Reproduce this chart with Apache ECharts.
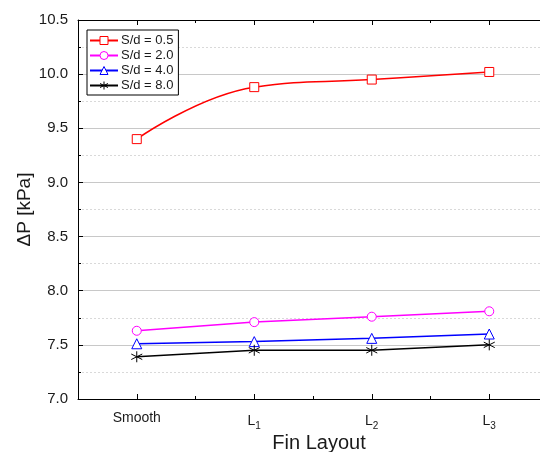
<!DOCTYPE html>
<html>
<head>
<meta charset="utf-8">
<script src="https://cdn.jsdelivr.net/npm/echarts@6/dist/echarts.min.js"></script>
<style>html,body{margin:0;padding:0;background:#fff}#c{width:540px;height:452px}</style>
</head>
<body>
<div id="c"></div>
<script>
const categories = ['Smooth', 'L1', 'L2', 'L3'];
const sd05 = [9.40, 9.88, 9.95, 10.02];
const sd20 = [7.63, 7.71, 7.76, 7.81];
const sd40 = [7.51, 7.53, 7.56, 7.60];
const sd80 = [7.39, 7.45, 7.45, 7.50];
const seriesNames = ['S/d = 0.5', 'S/d = 2.0', 'S/d = 4.0', 'S/d = 8.0'];
const yTicks = { min: 7.0, max: 10.5, step: 0.5 };

const chart = echarts.init(document.getElementById('c'), null, { renderer: 'canvas' });
const font = 'Arial, "Liberation Sans", sans-serif';
const txt = '#1a1a1a';

function catLabel(v) {
  if (v === 'Smooth') return 'Smooth';
  return '{m|L}{s|' + v.slice(1) + '}';
}
const catRich = {
  m: { fontSize: 14, fontFamily: font, color: txt },
  s: { fontSize: 10, fontFamily: font, color: txt, padding: [10, 0, 0, 0] }
};

const baseMinorX = {
  type: 'category', data: categories, boundaryGap: true,
  axisLine: { show: false }, axisLabel: { show: false }, splitLine: { show: false },
  axisTick: { show: true, inside: true, length: 3, lineStyle: { color: '#000' } }
};

const asterisk = 'path://M5 0L5 10M0.67 2.5L9.33 7.5M0.67 7.5L9.33 2.5';

chart.setOption({
  animation: false,
  backgroundColor: '#fff',
  grid: { left: 78, top: 20, width: 470, height: 379, containLabel: false, outerBoundsMode: 'none' },
  legend: {
    orient: 'vertical', left: 87, top: 30,
    backgroundColor: '#fff', borderColor: '#000', borderWidth: 1,
    padding: [4, 5, 3, 2], itemGap: 2, itemWidth: 28, itemHeight: 10,
    itemStyle: { borderWidth: 1 },
    textStyle: { fontSize: 13, fontFamily: font, color: txt, padding: [0, 0, 0, -2] },
    data: seriesNames
  },
  xAxis: [
    {
      type: 'category', data: categories, position: 'bottom', boundaryGap: true,
      axisLine: { show: true, lineStyle: { color: '#000', width: 1 } },
      axisTick: { show: true, inside: true, alignWithLabel: true, length: 5, lineStyle: { color: '#000' } },
      axisLabel: { formatter: catLabel, rich: catRich, margin: 12, fontSize: 14, fontFamily: font, color: txt },
      splitLine: { show: false },
      name: 'Fin Layout', nameLocation: 'middle', nameGap: 34, nameMoveOverlap: false,
      nameTextStyle: { fontSize: 20, fontFamily: font, color: txt, padding: [0, 0, 0, 12] }
    },
    Object.assign({}, baseMinorX, { position: 'bottom' }),
    {
      type: 'category', data: categories, position: 'top', boundaryGap: true,
      axisLine: { show: true, lineStyle: { color: '#000', width: 1 } },
      axisTick: { show: true, inside: true, alignWithLabel: true, length: 5, lineStyle: { color: '#000' } },
      axisLabel: { show: false }, splitLine: { show: false }
    },
    Object.assign({}, baseMinorX, { position: 'top' })
  ],
  yAxis: {
    type: 'value', min: yTicks.min, max: yTicks.max, interval: yTicks.step,
    axisLine: { show: true, lineStyle: { color: '#000', width: 1 } },
    axisTick: { show: true, inside: true, length: 5, lineStyle: { color: '#000' } },
    minorTick: { show: true, splitNumber: 2, length: 3, lineStyle: { color: '#000' } },
    axisLabel: { formatter: v => v.toFixed(1), fontSize: 15, fontFamily: font, color: txt, margin: 10 },
    splitLine: { show: true, lineStyle: { color: '#c8c8c8', width: 1 } },
    minorSplitLine: { show: true, lineStyle: { color: '#d9d9d9', width: 1, type: [2, 2] } },
    name: 'ΔP [kPa]', nameLocation: 'middle', nameGap: 44, nameMoveOverlap: false,
    nameTextStyle: { fontSize: 19, fontFamily: font, color: txt }
  },
  series: [
    {
      name: seriesNames[0], type: 'line', data: sd05, smooth: 0.45,
      symbol: 'rect', symbolSize: 9,
      itemStyle: { color: '#fff', borderColor: '#ff0000', borderWidth: 1 },
      lineStyle: { color: '#ff0000', width: 1.5 }
    },
    {
      name: seriesNames[1], type: 'line', data: sd20,
      symbol: 'circle', symbolSize: 9,
      itemStyle: { color: '#fff', borderColor: '#ff00ff', borderWidth: 1 },
      lineStyle: { color: '#ff00ff', width: 1.5 }
    },
    {
      name: seriesNames[2], type: 'line', data: sd40,
      symbol: 'triangle', symbolSize: 10,
      itemStyle: { color: '#fff', borderColor: '#0000ff', borderWidth: 1 },
      lineStyle: { color: '#0000ff', width: 1.5 }
    },
    {
      name: seriesNames[3], type: 'line', data: sd80,
      symbol: asterisk, symbolSize: 11,
      itemStyle: { color: 'rgba(0,0,0,0)', borderColor: '#000', borderWidth: 1 },
      lineStyle: { color: '#000', width: 1.5 }
    }
  ]
});
</script>
</body>
</html>
